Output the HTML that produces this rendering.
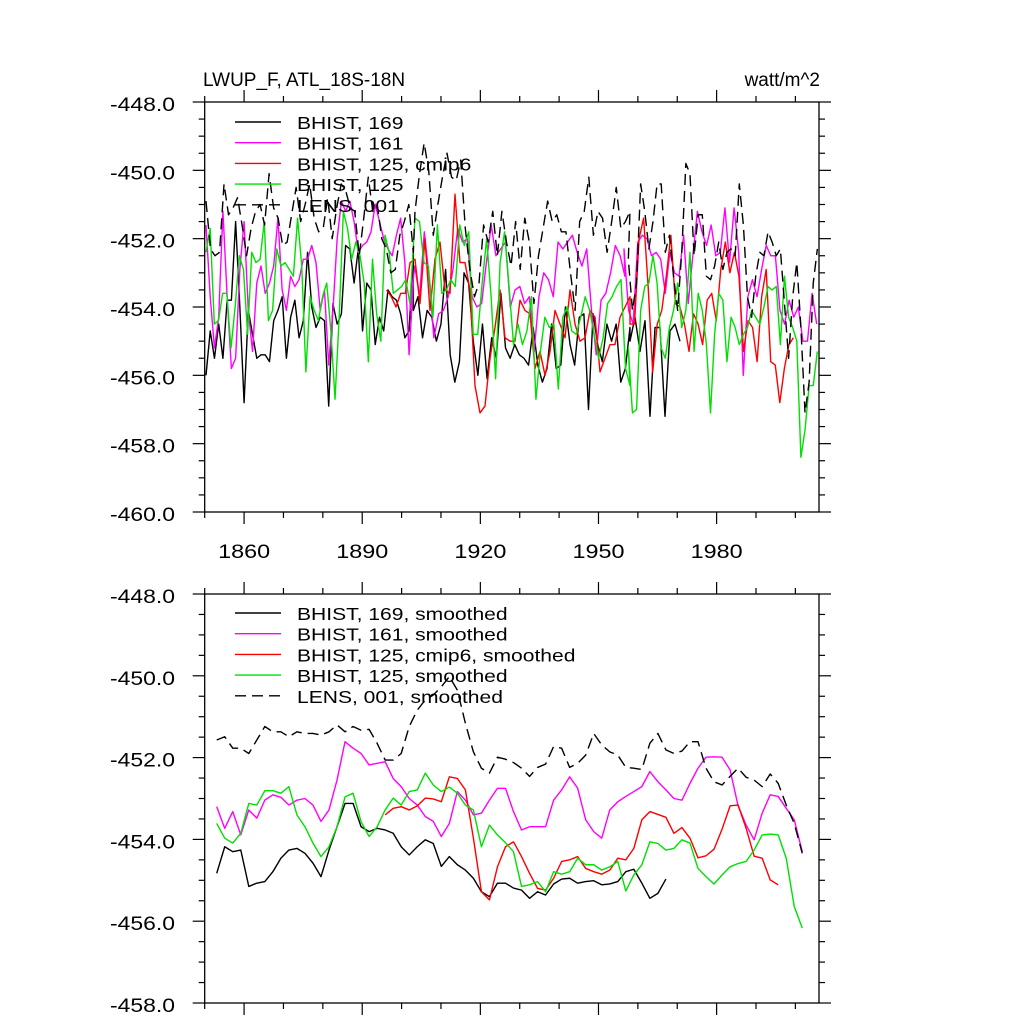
<!DOCTYPE html>
<html><head><meta charset="utf-8"><style>
html,body{margin:0;padding:0;background:#fff;}
svg{display:block;font-family:"Liberation Sans",Arial,sans-serif;}
</style></head><body>
<svg id="chart" width="1024" height="1024" viewBox="0 0 1024 1024" xmlns="http://www.w3.org/2000/svg">
<rect width="1024" height="1024" fill="#fff"/>
<text x="203" y="86" font-size="19">LWUP_F, ATL_18S-18N</text>
<text x="820" y="86" font-size="19" text-anchor="end">watt/m^2</text>
<g id="top"></g>
<g id="bot"></g>
</svg>
<script>
// ---------- data ----------
const xTickYears = [1860, 1890, 1920, 1950, 1980];
const topYTicks = [-448, -450, -452, -454, -456, -458, -460];
const botYTicks = [-448, -450, -452, -454, -456, -458];

// annual series, stored in segments: start year, step (years), values
const b169A = [-456.0,-454.7,-455.5,-454.5,-455.5,-453.8,-453.8,-451.5,-454.0,-456.8,-454.1,-454.8,-455.5,-455.4,-455.4,-455.6,-454.4,-454.1,-453.7,-455.5,-454.3,-453.8,-454.9,-454.4,-452.4,-454.0,-454.6,-454.3,-454.4,-456.9,-453.9,-454.5,-454.2,-452.2,-452.3,-453.3,-452.3,-454.7,-453.3,-453.5,-455.1,-454.3,-454.7,-453.5,-453.7,-453.8,-454.2,-454.9,-454.7,-452.3];
const b169B = [-454.1,-453.7,-454.9,-454.1,-454.3,-455.0,-454.5,-452.9,-455.4,-456.2,-455.6,-453.0,-453.3,-455.0,-456.0,-454.5,-456.1,-454.9,-455.5,-453.6,-455.2,-455.5,-455.1,-455.4,-455.5,-455.7,-454.6,-455.7,-456.2,-455.8,-454.5,-455.8,-455.7,-454.0,-455.1,-455.7,-454.3,-454.2,-457.0,-454.2,-455.1,-455.6,-454.5,-455.0,-454.5,-456.2,-455.8,-454.6];
const b169C = [-455.0,-454.3,-455.3,-454.4,-457.2,-454.6,-454.6,-457.2,-454.7,-454.5,-455.0];
const b169Starts = [1850.33, 1902.98, 1958.0];
const b169Steps = [1.0745, 1.1706, 1.27];

const b161A = [-451.6,-453.7,-455.2,-454.3,-451.2,-453.7,-455.8,-455.5,-452.9,-451.5,-454.1,-455.3,-453.3,-452.8,-453.6,-453.3,-452.8,-451.4,-453.5,-454.1,-453.1,-453.4,-453.2,-452.6,-452.6,-452.2,-452.7,-454.1,-453.5,-455.7,-454.1,-452.0,-450.9,-451.2,-450.9,-451.5,-452.4,-452.2,-452.1,-451.8,-451.0,-451.5,-452.0,-452.3,-452.5,-451.9,-451.4,-452.7,-455.4,-453.3];
const b161B = [-454.1,-452.8,-453.7,-451.8,-453.1,-454.9,-454.2,-454.1,-453.7,-452.9,-451.7,-452.1,-452.0,-453.7,-454.0,-453.9,-452.7,-451.6,-452.5,-452.3,-452.1,-454.0,-453.5,-453.4,-453.9,-453.7,-455.3,-453.7,-453.0,-453.2,-453.7,-452.1,-452.3,-452.1,-451.9,-452.4,-452.8,-452.3,-454.1,-455.4,-453.8,-453.6,-453.0,-452.2,-452.5,-453.1];
const b161C = [-452.3,-454.1,-454.5,-452.1,-451.9,-452.0,-452.5,-452.4,-452.6,-453.6,-452.4,-453.0,-453.1,-451.9,-453.9,-452.5,-451.2,-451.8,-452.2,-451.6,-452.5,-452.4,-451.1,-452.7,-451.1,-452.4,-456.0,-453.7,-453.2,-453.7,-452.9,-452.2,-452.5,-452.5,-454.1,-454.5,-453.8,-454.3,-454.0,-455.0,-455.0,-453.6,-454.5];
const b161Starts = [1850.33, 1902.13, 1956.48];
const b161Steps = [1.0745, 1.213, 1.165];

const cmipA = [-453.5,-453.7,-454.0,-453.6,-453.6,-452.7];
const cmipB = [-452.6,-453.9,-452.0,-454.1,-452.6,-452.1,-453.5,-453.6,-450.7,-452.7,-452.7,-453.5,-456.3,-457.1,-456.9,-455.5,-454.6,-453.5,-454.9,-455.0,-455.0,-453.8,-454.1,-454.2,-455.8,-455.3,-456.0,-455.3,-454.1,-454.5,-454.9,-453.5,-454.5,-455.0,-454.9,-454.1,-454.3,-455.9,-455.5,-455.1,-455.1,-454.3,-454.0,-453.7];
const cmipC = [-454.5,-454.5,-452.0,-451.4,-453.4,-455.9,-454.5,-454.1,-453.1,-451.9,-453.9,-454.0,-454.5,-455.3,-454.2,-454.5,-455.1,-453.8,-453.6,-454.4,-452.9,-452.1,-453.0,-452.4,-453.1,-455.3,-454.4,-454.6,-455.6,-453.7,-452.9,-455.6,-455.7,-456.8,-455.8,-455.1,-454.9];
const cmipStarts = [1896.2, 1903.4, 1958.0];
const cmipSteps = [1.19, 1.27, 1.153];

const b125A = [-452.4,-451.7,-454.5,-454.4,-453.6,-453.6,-455.2,-454.0,-452.5,-452.9,-454.8,-452.4,-452.7,-452.6,-451.5,-454.4,-454.1,-452.3,-452.8,-452.7,-452.9,-453.1,-451.4,-452.8,-455.9,-453.7,-454.1,-454.4,-453.7,-453.3,-454.7,-456.7,-454.3,-451.2,-451.7,-452.6,-452.1,-452.5,-453.3,-455.6,-452.6,-454.2,-455.0,-451.9,-452.4,-453.6,-453.5,-453.4,-453.2,-453.9];
const b125B = [-451.4,-451.5,-452.7,-452.8,-454.3,-451.6,-453.6,-453.5,-453.2,-453.4,-451.6,-452.2,-451.8,-454.8,-454.8,-453.3,-452.0,-453.7,-456.1,-452.7,-451.8,-453.4,-455.1,-454.5,-455.1,-454.7,-453.7,-456.7,-455.3,-454.3,-454.6,-454.5,-456.4,-454.3,-454.0,-454.7,-454.8,-454.3,-453.7,-454.1,-454.8,-455.5,-454.9,-453.9,-453.7,-453.4,-453.2,-455.8,-456.3];
const b125C = [-455.2,-457.1,-457.0,-454.1,-453.4,-453.3,-452.5,-453.3,-455.2,-455.5,-454.6,-454.1,-453.3,-454.6,-454.1,-452.4,-455.3,-453.6,-454.1,-455.1,-457.1,-454.8,-453.6,-453.8,-455.6,-454.3,-454.6,-455.1,-454.8,-454.6,-454.1,-454.3,-454.5,-454.0,-453.4,-453.5,-453.4,-455.1,-453.1,-454.3,-454.6,-455.0,-458.4,-457.6,-456.3,-456.3,-455.3];
const b125Starts = [1850.33, 1903.4, 1957.58];
const b125Steps = [1.057, 1.1375, 1.0435];

const lensA = [-450.9,-452.3,-452.5,-452.4,-450.4,-451.3,-451.1,-450.8,-451.6,-452.5,-451.7,-451.2,-451.0,-451.6,-450.1,-451.1,-451.4,-452.2,-452.1,-451.3,-450.5,-451.5,-451.0,-450.4,-451.4,-451.8,-451.7,-450.8,-452.0,-451.1,-450.4,-450.6,-451.1,-451.2,-452.5,-451.4,-450.2,-451.2,-451.0,-452.0,-452.3,-453.0,-452.9,-451.9,-451.5,-451.0,-452.4];
const lensB = [-451.2,-450.1,-449.2,-450.0,-451.9,-451.0,-450.2,-449.5,-450.2,-450.3,-449.7,-451.7,-452.9,-453.7,-453.3,-451.6,-452.1,-451.2,-452.5,-451.2,-452.1,-452.8,-451.5,-452.9,-451.4,-452.1,-453.9,-452.5,-451.7,-450.9,-451.5,-451.3,-451.8,-451.8,-453.0,-454.1,-451.5,-451.2,-450.2,-451.9,-451.2,-451.4,-452.4,-451.5,-450.5,-451.7,-451.5,-451.2];
const lensC = [-452.6,-454.1,-453.3,-450.4,-451.2,-452.3,-451.5,-450.4,-450.4,-452.4,-451.9,-453.1,-454.1,-452.4,-449.8,-450.1,-452.5,-451.3,-451.3,-453.1,-453.2,-452.8,-452.1,-452.9,-452.4,-452.3,-452.5,-450.4,-451.6,-453.7,-454.3,-453.1,-452.4,-452.5,-451.8,-452.1,-452.5,-452.3,-453.9,-455.5,-453.7,-452.7,-454.6,-457.1,-456.2,-453.3,-452.3];
const lensStarts = [1850.33, 1903.4, 1957.58];
const lensSteps = [1.1446, 1.1617, 1.0435];

// smoothed series (sampled every ~2 years)
const smStep = 2.037;
const s169Start = 1853.05;
const s169 = [-454.83,-454.18,-454.30,-454.26,-455.15,-455.07,-455.03,-454.79,-454.46,-454.26,-454.22,-454.34,-454.58,-454.91,-454.26,-453.69,-453.12,-453.12,-453.69,-453.81,-453.73,-453.77,-453.85,-454.18,-454.38,-454.18,-454.01,-454.10,-454.66,-454.42,-454.62,-454.75,-454.95,-455.28,-455.40,-455.07,-455.07,-455.19,-455.24,-455.44,-455.28,-455.36,-455.09,-454.97,-454.95,-455.07,-455.03,-455.01,-455.11,-455.09,-455.03,-454.79,-454.73,-455.07,-455.44,-455.32,-454.97];
const s161Start = 1853.05;
const s161 = [-453.20,-453.73,-453.32,-453.89,-453.28,-453.48,-453.04,-452.91,-452.97,-453.16,-453.04,-453.00,-453.16,-453.56,-453.28,-452.55,-451.61,-451.77,-451.90,-452.18,-452.14,-452.10,-452.51,-452.71,-453.00,-453.16,-453.44,-453.56,-453.93,-453.61,-452.83,-453.04,-453.40,-453.36,-453.04,-452.75,-452.75,-453.32,-453.77,-453.69,-453.69,-453.69,-453.04,-452.79,-452.47,-452.75,-453.52,-453.81,-453.97,-453.28,-453.08,-452.95,-452.83,-452.71,-452.34,-452.59,-452.79,-453.00,-453.04,-452.63,-452.26,-451.99,-451.98,-451.99,-452.30,-453.18,-453.65,-454.01,-453.36,-452.91,-452.95,-453.24,-453.52,-454.30];
const scmStart = 1895.83;
const scm = [-453.40,-453.24,-453.20,-453.28,-453.18,-452.99,-453.01,-453.08,-452.47,-452.51,-452.79,-453.97,-455.28,-455.48,-454.67,-454.18,-454.06,-454.42,-454.83,-455.20,-455.24,-454.95,-454.54,-454.50,-454.42,-454.71,-454.79,-454.85,-454.75,-454.46,-454.50,-454.22,-453.52,-453.32,-453.39,-453.46,-453.85,-453.71,-453.97,-454.45,-454.40,-454.24,-453.75,-453.18,-453.16,-453.73,-454.41,-454.46,-454.99,-455.11];
const s125Start = 1853.05;
const s125 = [-453.61,-453.97,-454.09,-453.85,-453.12,-453.16,-452.81,-452.81,-452.87,-452.71,-453.40,-453.69,-454.09,-454.42,-454.18,-453.69,-452.96,-452.87,-453.57,-453.93,-453.69,-453.28,-452.99,-453.16,-452.83,-452.79,-452.38,-452.67,-452.83,-452.72,-452.87,-453.16,-453.28,-454.18,-453.65,-453.89,-454.08,-454.30,-455.15,-455.11,-455.03,-455.28,-454.79,-454.85,-454.79,-454.46,-454.62,-454.62,-454.75,-454.67,-454.54,-455.26,-454.87,-454.62,-454.06,-454.10,-454.26,-454.22,-454.01,-454.09,-454.71,-454.91,-455.09,-454.87,-454.67,-454.59,-454.54,-454.26,-453.89,-453.87,-453.89,-454.46,-455.64,-456.17];
const slensStart = 1853.05;
const slens = [-451.57,-451.49,-451.77,-451.77,-451.90,-451.57,-451.24,-451.37,-451.37,-451.49,-451.37,-451.41,-451.41,-451.45,-451.37,-451.20,-451.37,-451.24,-451.33,-451.31,-451.65,-452.06,-452.06,-451.90,-451.24,-450.84,-450.59,-450.47,-450.27,-450.02,-450.35,-451.16,-451.86,-452.26,-452.38,-451.99,-452.04,-452.12,-452.26,-452.46,-452.24,-452.16,-451.73,-451.77,-452.24,-452.14,-451.94,-451.41,-451.69,-451.86,-451.94,-452.24,-452.26,-452.29,-451.65,-451.41,-451.81,-451.90,-451.84,-451.61,-451.61,-452.26,-452.59,-452.67,-452.46,-452.26,-452.48,-452.55,-452.71,-452.40,-452.63,-453.16,-453.61,-454.34];

const topLegend = ["BHIST, 169", "BHIST, 161", "BHIST, 125, cmip6", "BHIST, 125", "LENS, 001"];
const botLegend = ["BHIST, 169, smoothed", "BHIST, 161, smoothed", "BHIST, 125, cmip6, smoothed", "BHIST, 125, smoothed", "LENS, 001, smoothed"];
const colors = ["#000000", "#ff00ff", "#ff0000", "#00e000", "#000000"];

// ---------- drawing ----------
const NS = "http://www.w3.org/2000/svg";
const X0 = 204.7, X1 = 819, YR0 = 1850, YR1 = 2006;
function xs(yr){ return X0 + (yr - YR0) * (X1 - X0) / (YR1 - YR0); }
function mk(tag, attrs, parent){ const e = document.createElementNS(NS, tag); for (const k in attrs) e.setAttribute(k, attrs[k]); parent.appendChild(e); return e; }

function panel(g, top, bottom, vTop, vBot, yTicks, labelX, prefix){
  const ys = v => top + (vTop - v) * (bottom - top) / (vTop - vBot);
  const st = {stroke:"#000", "stroke-width":1.2};
  const fr = mk("rect", {x:X0, y:top, width:X1-X0, height:bottom-top, fill:"none", stroke:"#000", "stroke-width":1.3}, g);
  
  
  for (let v = vTop; v >= vBot - 1e-6; v -= 0.5){
    const major = Math.abs(v/2 - Math.round(v/2)) < 1e-6;
    const L = major ? 12 : 6;
    const y = ys(v);
    const t1 = mk("line", Object.assign({x1:X0-L, x2:X0, y1:y, y2:y}, st), g);
    
    
    const t2 = mk("line", Object.assign({x1:X1, x2:X1+L, y1:y, y2:y}, st), g);
    
    
  }
  yTicks.forEach(v => {
    const t = mk("text", {x:110, y:ys(v)+9, "font-size":19, textLength:65, lengthAdjust:"spacingAndGlyphs"}, g);
    t.textContent = v.toFixed(1);
    
    
  });
  for (let yr = 1850; yr <= 2000; yr += 10){
    const major = xTickYears.includes(yr);
    const L = major ? 12 : 6;
    const x = xs(yr);
    const b = mk("line", Object.assign({x1:x, x2:x, y1:bottom, y2:bottom+L}, st), g);
    
    
    const tt = mk("line", Object.assign({x1:x, x2:x, y1:top-L, y2:top}, st), g);
    
    
  }
  if (labelX){
    xTickYears.forEach(yr => {
      const t = mk("text", {x:xs(yr)-26, y:bottom+46, "font-size":19, textLength:52, lengthAdjust:"spacingAndGlyphs"}, g);
      t.textContent = yr;
      
      
    });
  }
  return ys;
}

function drawPts(g, pts, color, dashed, name){
  const attrs = {points:pts.join(" "), fill:"none", stroke:color, "stroke-width":1.4, "stroke-linejoin":"round"};
  if (dashed) attrs["stroke-dasharray"] = "11,6";
  const p = mk("polyline", attrs, g);
  
  
}
function segSeries(g, ys, segs, starts, steps, color, dashed, name){
  const pts = [];
  segs.forEach((vals, s) => vals.forEach((v, i) => pts.push(xs(starts[s] + i*steps[s]).toFixed(2) + "," + ys(v).toFixed(2))));
  drawPts(g, pts, color, dashed, name);
}
function series(g, ys, start, step, vals, color, dashed, name){
  const pts = vals.map((v,i) => xs(start + i*step).toFixed(2) + "," + ys(v).toFixed(2));
  drawPts(g, pts, color, dashed, name);
}

function legend(g, labels, y0, dy, prefix){
  labels.forEach((lab, i) => {
    const y = y0 + i*dy;
    const a = {x1:235, x2:281, y1:y, y2:y, stroke:colors[i], "stroke-width":1.4};
    if (i === 4) a["stroke-dasharray"] = "11,6";
    const l = mk("line", a, g);
    
    
    const t = mk("text", {x:0, y:0, "font-size":18, transform:"translate(297," + (y+7) + ") scale(1.17,1)"}, g);
    t.textContent = lab;
    
    
  });
}

const gt = document.getElementById("top");
const ysT = panel(gt, 102, 512, -448, -460, topYTicks, true, "top");
segSeries(gt, ysT, [b169A, b169B, b169C], b169Starts, b169Steps, colors[0], false, "series-bhist-169");
segSeries(gt, ysT, [b161A, b161B, b161C], b161Starts, b161Steps, colors[1], false, "series-bhist-161");
segSeries(gt, ysT, [cmipA, cmipB, cmipC], cmipStarts, cmipSteps, colors[2], false, "series-bhist-125-cmip6");
segSeries(gt, ysT, [b125A, b125B, b125C], b125Starts, b125Steps, colors[3], false, "series-bhist-125");
segSeries(gt, ysT, [lensA, lensB, lensC], lensStarts, lensSteps, colors[4], true, "series-lens-001");
legend(gt, topLegend, 122, 20.7, "top");

const gb = document.getElementById("bot");
const ysB = panel(gb, 594, 1003, -448, -458, botYTicks, false, "bottom");
series(gb, ysB, s169Start, smStep, s169, colors[0], false, "series-bhist-169-smoothed");
series(gb, ysB, s161Start, smStep, s161, colors[1], false, "series-bhist-161-smoothed");
series(gb, ysB, scmStart, smStep, scm, colors[2], false, "series-bhist-125-cmip6-smoothed");
series(gb, ysB, s125Start, smStep, s125, colors[3], false, "series-bhist-125-smoothed");
series(gb, ysB, slensStart, smStep, slens, colors[4], true, "series-lens-001-smoothed");
legend(gb, botLegend, 613, 20.7, "bottom");
</script>
</body></html>
